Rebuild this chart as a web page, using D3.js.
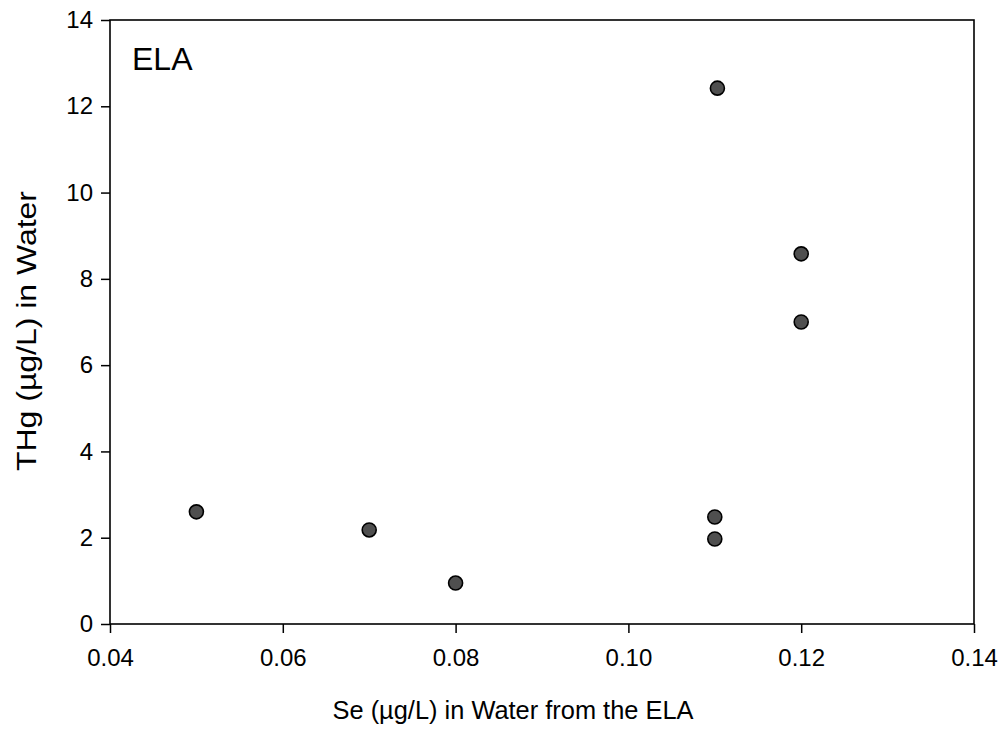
<!DOCTYPE html>
<html>
<head>
<meta charset="utf-8">
<script src="https://cdn.jsdelivr.net/npm/d3@7"></script>
<style>
  html, body { margin: 0; padding: 0; background: #fff; }
  svg { display: block; }
  text { font-family: "Liberation Sans", Arial, sans-serif; fill: #000; }
</style>
</head>
<body>
<svg id="chart" width="1003" height="733"></svg>
<script>
// Se and THg concentrations in water, ELA sites
const seValues  = [0.05, 0.07, 0.08, 0.1103, 0.11, 0.11, 0.12, 0.12];
const thgValues = [2.6, 2.18, 0.95, 12.42, 2.48, 1.97, 8.58, 7.0];
const xTicks = [0.04, 0.06, 0.08, 0.10, 0.12, 0.14];
const yTicks = [0, 2, 4, 6, 8, 10, 12, 14];
const xTitle = "Se (\u00b5g/L) in Water from the ELA";
const yTitle = "THg (\u00b5g/L) in Water";
const panelLabel = "ELA";

const svg = d3.select("#chart");
const W = 1003, H = 733;
const margin = { left: 110, right: W - 974, top: 20, bottom: H - 624 };

const x = d3.scaleLinear().domain([0.04, 0.14]).range([margin.left, W - margin.right]);
const y = d3.scaleLinear().domain([0, 14]).range([H - margin.bottom, margin.top]);

// x axis
const xAxis = svg.append("g")
  .attr("transform", `translate(0,${H - margin.bottom})`)
  .call(d3.axisBottom(x).tickValues(xTicks).tickFormat(d3.format(".2f")).tickSize(9).tickPadding(16));
// y axis
const yAxis = svg.append("g")
  .attr("transform", `translate(${margin.left},0)`)
  .call(d3.axisLeft(y).tickValues(yTicks).tickFormat(d3.format("d")).tickSize(9).tickPadding(8));

[xAxis, yAxis].forEach(g => {
  g.select(".domain").remove();
  g.selectAll(".tick line").attr("stroke", "#000").attr("stroke-width", 1.5);
  g.selectAll(".tick text").attr("font-size", 24).attr("fill", "#000")
    .style("font-family", "'Liberation Sans', Arial, sans-serif");
});

// frame
svg.append("rect")
  .attr("x", x(0.04)).attr("y", y(14))
  .attr("width", x(0.14) - x(0.04)).attr("height", y(0) - y(14))
  .attr("fill", "none").attr("stroke", "#000").attr("stroke-width", 1.6);

// points
svg.append("g").selectAll("circle")
  .data(seValues.map((s, i) => ({ s, t: thgValues[i] })))
  .join("circle")
  .attr("cx", d => x(d.s))
  .attr("cy", d => y(d.t))
  .attr("r", 7)
  .attr("fill", "#4f4f4f")
  .attr("stroke", "#000")
  .attr("stroke-width", 1.6);

// panel label
svg.append("text")
  .attr("x", 132).attr("y", 70)
  .attr("font-size", 32)
  .text(panelLabel);

// axis titles
svg.append("text")
  .attr("x", 513).attr("y", 719)
  .attr("text-anchor", "middle")
  .attr("font-size", 26)
  .attr("textLength", 361)
  .attr("lengthAdjust", "spacingAndGlyphs")
  .text(xTitle);

svg.append("text")
  .attr("transform", `translate(36,331) rotate(-90)`)
  .attr("text-anchor", "middle")
  .attr("font-size", 27)
  .attr("textLength", 280)
  .attr("lengthAdjust", "spacingAndGlyphs")
  .text(yTitle);
</script>
</body>
</html>
